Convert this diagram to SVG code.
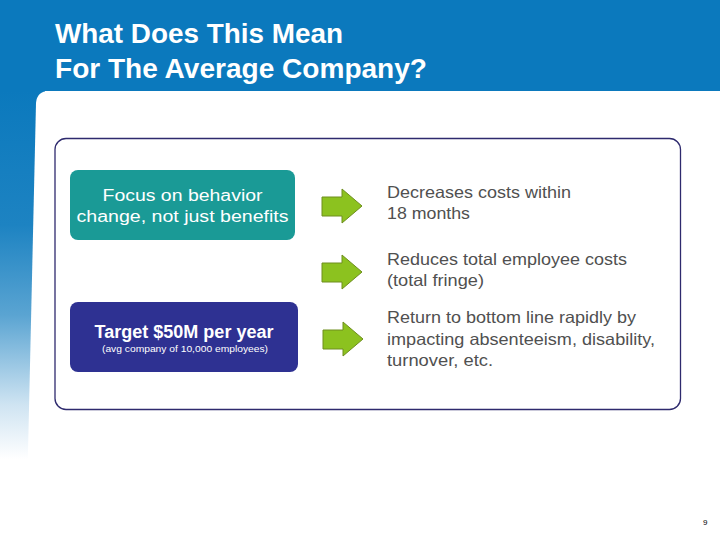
<svg xmlns="http://www.w3.org/2000/svg" width="720" height="540" viewBox="0 0 720 540">
<defs>
<linearGradient id="strip" x1="0" y1="90" x2="0" y2="540" gradientUnits="userSpaceOnUse">
<stop offset="0" stop-color="#0b79bd"/>
<stop offset="0.3" stop-color="#1d83c2"/>
<stop offset="0.5" stop-color="#5aa4d2"/>
<stop offset="0.7" stop-color="#cfe4f2"/>
<stop offset="0.82" stop-color="#ffffff"/>
</linearGradient>
<style>
.title{font-family:"Liberation Sans",Arial,sans-serif;font-weight:bold;font-size:27px;fill:#ffffff}
.box{font-family:"Liberation Sans",Arial,sans-serif;fill:#ffffff}
.res{font-family:"Liberation Sans",Arial,sans-serif;font-size:16.5px;fill:#505050}
.arrow{fill:#8cc21f;stroke:#6e8e1e;stroke-width:1}
</style>
</defs>
<rect x="0" y="0" width="720" height="91" fill="#0b79bd"/>
<rect x="0" y="90" width="45" height="450" fill="url(#strip)"/>
<path d="M49 91 L720 91 L720 540 L26 540 L36 103 Q37 91 49 91 Z" fill="#ffffff"/>
<text class="title" x="55" y="43" textLength="288" lengthAdjust="spacingAndGlyphs">What Does This Mean</text>
<text class="title" x="55" y="78" textLength="372" lengthAdjust="spacingAndGlyphs">For The Average Company?</text>
<rect x="55" y="138.5" width="625.5" height="271" rx="11" fill="none" stroke="#2e2a6e" stroke-width="1.3"/>
<g id="focus">
<rect x="70" y="170" width="225" height="70" rx="8" fill="#1a9a96"/>
<text class="box" x="182.5" y="201" font-size="16" text-anchor="middle" textLength="160" lengthAdjust="spacingAndGlyphs">Focus on behavior</text>
<text class="box" x="182.5" y="222" font-size="16" text-anchor="middle" textLength="212" lengthAdjust="spacingAndGlyphs">change, not just benefits</text>
</g>
<g id="target">
<rect x="70" y="302" width="228" height="70" rx="8" fill="#2e3192"/>
<text class="box" x="184" y="338" font-size="18" font-weight="bold" text-anchor="middle" textLength="179" lengthAdjust="spacingAndGlyphs">Target $50M per year</text>
<text class="box" x="185" y="352" font-size="9" text-anchor="middle" textLength="166" lengthAdjust="spacingAndGlyphs">(avg company of 10,000 employees)</text>
</g>
<g id="connectors">
<path class="arrow" d="M322 197 L342 197 L342 189 L362 206 L342 223 L342 216 L322 216 Z"/>
<path class="arrow" d="M322 263 L342 263 L342 255 L362 272 L342 289 L342 282 L322 282 Z"/>
<path class="arrow" d="M323 330 L343 330 L343 322 L363 339 L343 356 L343 349 L323 349 Z"/>
</g>
<g id="r1">
<text class="res" x="387" y="198" textLength="184" lengthAdjust="spacingAndGlyphs">Decreases costs within</text>
<text class="res" x="387" y="219" textLength="83" lengthAdjust="spacingAndGlyphs">18 months</text>
</g>
<g id="r2">
<text class="res" x="387" y="265" textLength="240" lengthAdjust="spacingAndGlyphs">Reduces total employee costs</text>
<text class="res" x="387" y="286" textLength="97" lengthAdjust="spacingAndGlyphs">(total fringe)</text>
</g>
<g id="r3">
<text class="res" x="387" y="323" textLength="249" lengthAdjust="spacingAndGlyphs">Return to bottom line rapidly by</text>
<text class="res" x="387" y="345" textLength="268" lengthAdjust="spacingAndGlyphs">impacting absenteeism, disability,</text>
<text class="res" x="387" y="366" textLength="106" lengthAdjust="spacingAndGlyphs">turnover, etc.</text>
</g>
<text x="703" y="525" font-family="Liberation Sans, Arial, sans-serif" font-size="8" fill="#000000">9</text>
</svg>
